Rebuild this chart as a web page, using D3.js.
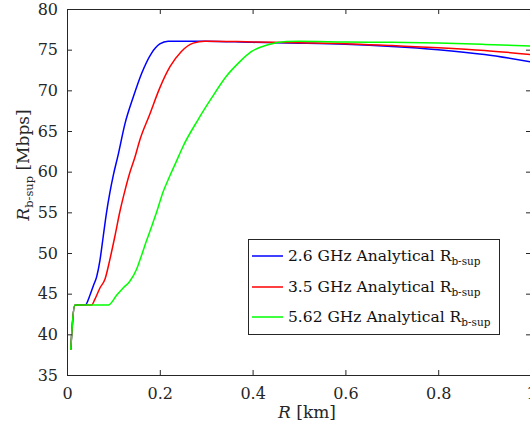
<!DOCTYPE html>
<html><head><meta charset="utf-8">
<script src="https://cdn.jsdelivr.net/npm/d3@7"></script>
<style>body{margin:0;background:#fff}svg{display:block}</style>
</head><body>
<script>
// ---- data ----
const xBlue = [0.008,0.017,0.03,0.039,0.05,0.057,0.064,0.071,0.078,0.085,0.092,0.10,0.11,0.125,0.143,0.161,0.182,0.20,0.218,0.30,0.40,0.50,0.60,0.70,0.80,0.90,1.00];
const yBlue = [38.1,43.6,43.6,43.6,44.9,46.0,47.1,49.1,52.0,54.9,57.3,59.6,62.0,65.9,69.2,72.1,74.55,75.7,76.05,76.05,75.9,75.8,75.66,75.4,75.0,74.4,73.5];
const xRed = [0.008,0.017,0.03,0.053,0.06,0.071,0.082,0.092,0.103,0.114,0.125,0.135,0.146,0.157,0.178,0.20,0.222,0.246,0.272,0.297,0.40,0.50,0.60,0.70,0.80,0.90,1.00];
const yRed = [38.1,43.6,43.6,43.6,44.3,45.7,46.8,49.1,52.0,55.1,57.7,59.8,61.7,63.9,67.0,70.3,72.9,74.75,75.8,76.05,75.95,75.85,75.74,75.5,75.24,74.9,74.4];
const xGreen = [0.008,0.017,0.03,0.06,0.089,0.107,0.121,0.135,0.15,0.16,0.17,0.182,0.193,0.207,0.221,0.236,0.25,0.282,0.311,0.343,0.372,0.397,0.433,0.473,0.50,0.60,0.70,0.80,0.90,1.00];
const yGreen = [38.1,43.6,43.6,43.6,43.6,44.8,45.7,46.5,48.0,49.6,51.3,53.2,55.0,57.5,59.4,61.3,63.1,66.35,69.0,71.7,73.5,74.75,75.6,76.0,76.03,75.95,75.9,75.82,75.65,75.45];
const seriesNames = ["2.6 GHz Analytical R", "3.5 GHz Analytical R", "5.62 GHz Analytical R"];
const seriesColors = ["#0000ff", "#ff0000", "#00ff00"];
const xTicks = [0, 0.2, 0.4, 0.6, 0.8, 1];
const yTicks = [35, 40, 45, 50, 55, 60, 65, 70, 75, 80];

// ---- layout ----
const W = 530, H = 426;
const L = 67, R = 531, T = 9, B = 375;
const font = "Georgia, 'DejaVu Serif', serif";
const axisColor = "#262626";

const svg = d3.select("body").append("svg").attr("width", W).attr("height", H)
  .style("font-family", font);

const x = d3.scaleLinear().domain([0, 1]).range([L, R]);
const y = d3.scaleLinear().domain([35, 80]).range([B, T]);

const series = [
  {x: xBlue, y: yBlue},
  {x: xRed, y: yRed},
  {x: xGreen, y: yGreen}
];

const line = d3.line().x(d => x(d[0])).y(d => y(d[1])).curve(d3.curveMonotoneX);

series.forEach((s, i) => {
  svg.append("path")
    .attr("d", line(s.x.map((v, j) => [v, s.y[j]])))
    .attr("fill", "none").attr("stroke", seriesColors[i]).attr("stroke-width", 1.5);
});

// axes
function styleAxis(g, noLabels) {
  g.select(".domain").attr("stroke", axisColor).attr("stroke-width", 1);
  g.selectAll(".tick line").attr("stroke", axisColor);
  g.selectAll(".tick text").attr("fill", axisColor).style("font-size", "16px").style("font-family", font);
  if (noLabels) g.selectAll(".tick text").remove();
}
svg.append("g").attr("transform", `translate(0,${B})`)
  .call(d3.axisBottom(x).tickValues(xTicks).tickSize(-5).tickSizeOuter(0).tickPadding(13).tickFormat(d3.format("")))
  .call(g => styleAxis(g));
svg.append("g").attr("transform", `translate(0,${T})`)
  .call(d3.axisTop(x).tickValues(xTicks).tickSize(-5).tickSizeOuter(0))
  .call(g => styleAxis(g, true));
svg.append("g").attr("transform", `translate(${L},0)`)
  .call(d3.axisLeft(y).tickValues(yTicks).tickSize(-5).tickSizeOuter(0).tickPadding(9))
  .call(g => styleAxis(g));
svg.append("g").attr("transform", `translate(${R},0)`)
  .call(d3.axisRight(y).tickValues(yTicks).tickSize(-5).tickSizeOuter(0))
  .call(g => styleAxis(g, true));

// axis labels
const xl = svg.append("text").attr("x", 307).attr("y", 418).attr("text-anchor", "middle")
  .attr("fill", axisColor).style("font-size", "17px");
xl.append("tspan").style("font-style", "italic").text("R");
xl.append("tspan").text(" [km]");

const yl = svg.append("text").attr("transform", "translate(29,165) rotate(-90)").attr("text-anchor", "middle")
  .attr("fill", axisColor).style("font-size", "17px");
yl.append("tspan").style("font-style", "italic").text("R");
yl.append("tspan").attr("dy", 4).style("font-size", "11.5px").text("b-sup");
yl.append("tspan").attr("dy", -4).text(" [Mbps]");

// legend
const lg = svg.append("g");
lg.append("rect").attr("x", 248.5).attr("y", 239.5).attr("width", 251).attr("height", 95)
  .attr("fill", "#fff").attr("stroke", axisColor).attr("stroke-width", 1);
const rowY = [256, 287, 317];
seriesNames.forEach((n, i) => {
  lg.append("line").attr("x1", 252).attr("x2", 283).attr("y1", rowY[i]).attr("y2", rowY[i])
    .attr("stroke", seriesColors[i]).attr("stroke-width", 1.5);
  const t = lg.append("text").attr("x", 288).attr("y", rowY[i] + 5).attr("fill", "#111")
    .style("font-size", "15.5px");
  t.append("tspan").text(n);
  t.append("tspan").attr("dy", 4).style("font-size", "10.5px").text("b-sup");
});
</script>
</body></html>
